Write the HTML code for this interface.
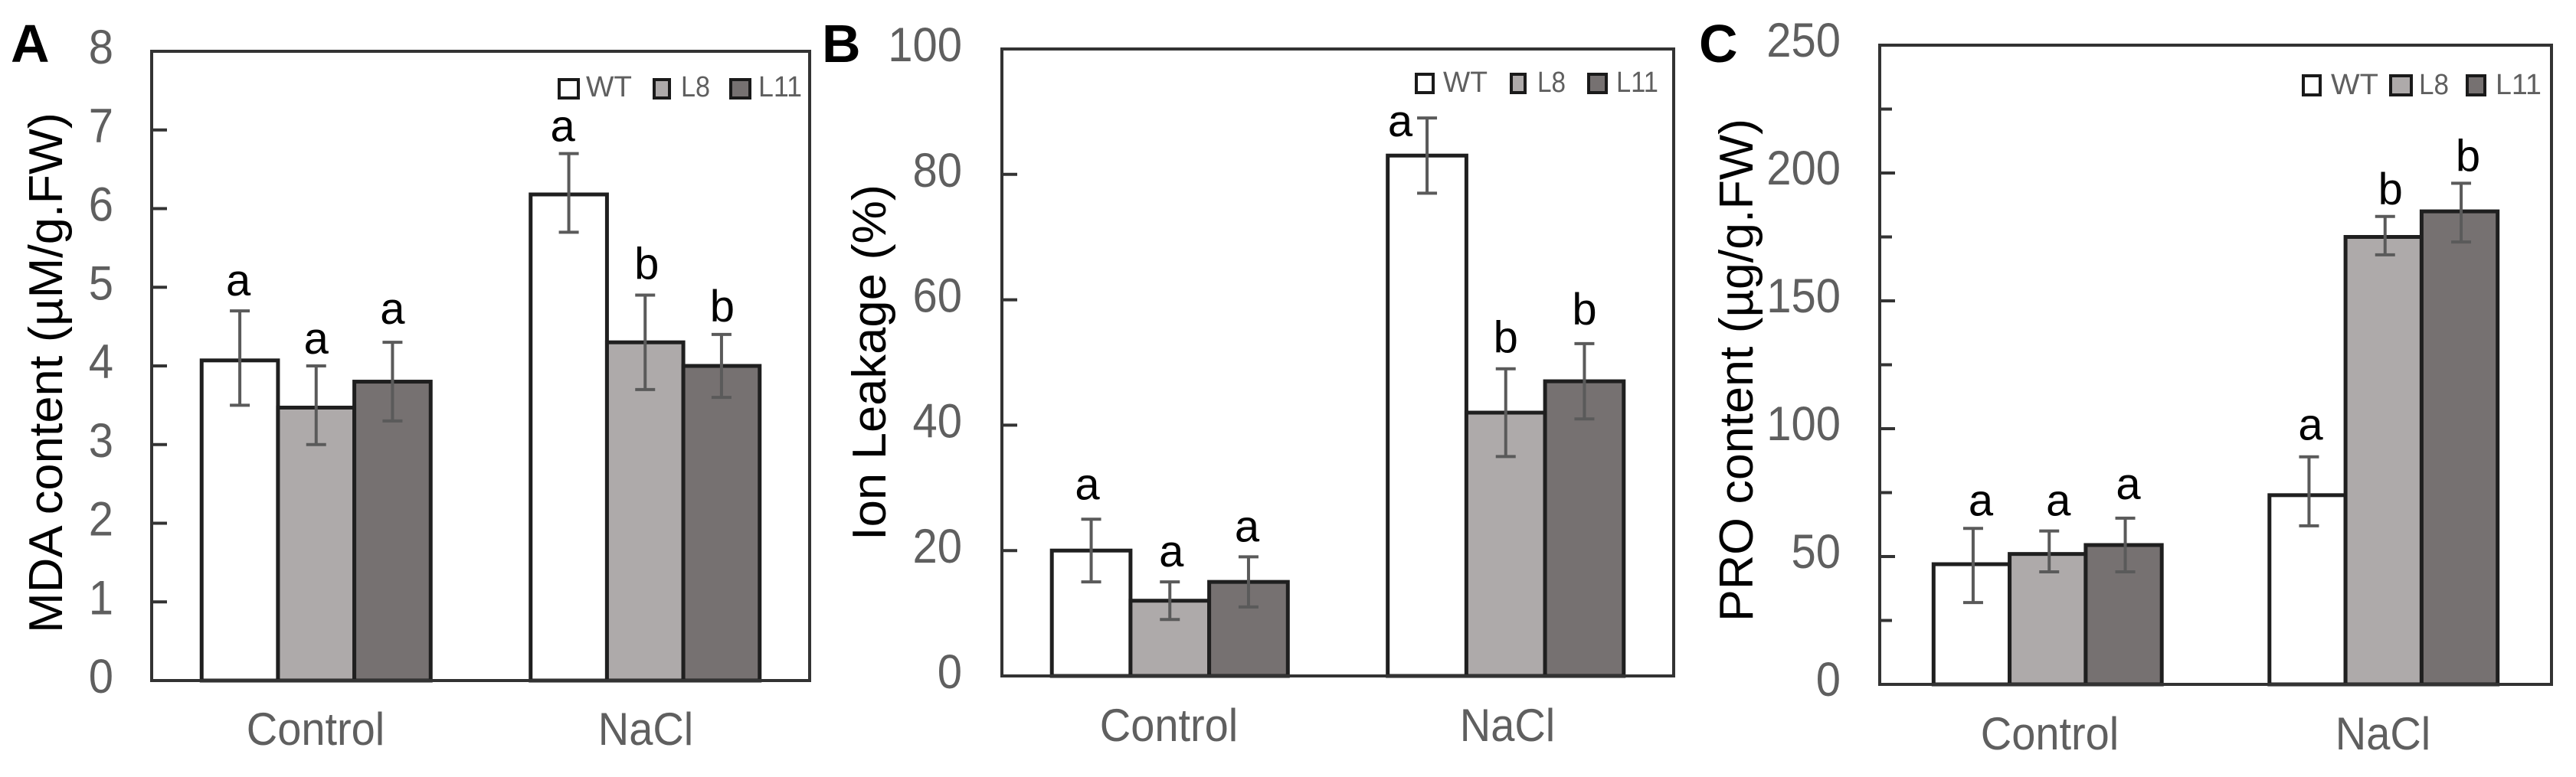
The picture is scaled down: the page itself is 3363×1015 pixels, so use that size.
<!DOCTYPE html>
<html lang="en">
<head>
<meta charset="utf-8">
<title>MDA content, ion leakage and PRO content</title>
<style>
html,body{margin:0;padding:0;background:#fff;width:3363px;height:1015px;overflow:hidden}
svg{display:block}
text{font-family:"Liberation Sans",sans-serif}
.legend-text{fill:#5f5f5f;font-size:38px}
.axis-title{fill:#000;font-size:62px}
.panel-letter{fill:#000;font-size:70px;font-weight:bold}
</style>
</head>
<body>
<svg id="figure" width="3363" height="1015" viewBox="0 0 3363 1015" xmlns="http://www.w3.org/2000/svg">
  <rect width="3363" height="1015" fill="#fff"/>

  <g id="panel-a">
    <text class="panel-letter" x="14" y="81">A</text>
    <text class="axis-title" transform="translate(81,827) rotate(-90)" textLength="680" lengthAdjust="spacingAndGlyphs">MDA content (µM/g.FW)</text>
  </g>
  <g id="panel-b">
    <text class="panel-letter" x="1073" y="81">B</text>
    <text class="axis-title" transform="translate(1156,706) rotate(-90)" textLength="465" lengthAdjust="spacingAndGlyphs">Ion Leakage (%)</text>
  </g>
  <g id="panel-c">
    <text class="panel-letter" x="2218" y="81">C</text>
    <text class="axis-title" transform="translate(2288,812) rotate(-90)" textLength="657" lengthAdjust="spacingAndGlyphs">PRO content (µg/g.FW)</text>
  </g>

  <g id="overlays">
    <g>
      <rect x="730" y="104" width="25" height="24" fill="#fff" stroke="#1a1a1a" stroke-width="4"/>
      <text class="legend-text" x="765" y="126" textLength="60" lengthAdjust="spacingAndGlyphs">WT</text>
      <rect x="854" y="104" width="20" height="24" fill="#aeaaaa" stroke="#1a1a1a" stroke-width="4"/>
      <text class="legend-text" x="889" y="126" textLength="38" lengthAdjust="spacingAndGlyphs">L8</text>
      <rect x="954" y="104" width="25" height="24" fill="#767171" stroke="#1a1a1a" stroke-width="4"/>
      <text class="legend-text" x="990" y="126" textLength="57" lengthAdjust="spacingAndGlyphs">L11</text>
    </g>
    <g>
      <rect x="1849" y="97" width="22" height="24" fill="#fff" stroke="#1a1a1a" stroke-width="4"/>
      <text class="legend-text" x="1884" y="120" textLength="58" lengthAdjust="spacingAndGlyphs">WT</text>
      <rect x="1973" y="97" width="18" height="24" fill="#aeaaaa" stroke="#1a1a1a" stroke-width="4"/>
      <text class="legend-text" x="2007" y="120" textLength="37" lengthAdjust="spacingAndGlyphs">L8</text>
      <rect x="2074" y="97" width="23" height="24" fill="#767171" stroke="#1a1a1a" stroke-width="4"/>
      <text class="legend-text" x="2110" y="120" textLength="55" lengthAdjust="spacingAndGlyphs">L11</text>
    </g>
    <g>
      <rect x="3007" y="99" width="22" height="25" fill="#fff" stroke="#1a1a1a" stroke-width="4"/>
      <text class="legend-text" x="3043" y="123" textLength="62" lengthAdjust="spacingAndGlyphs">WT</text>
      <rect x="3121" y="99" width="27" height="25" fill="#aeaaaa" stroke="#1a1a1a" stroke-width="4"/>
      <text class="legend-text" x="3158" y="123" textLength="39" lengthAdjust="spacingAndGlyphs">L8</text>
      <rect x="3221" y="99" width="23" height="25" fill="#767171" stroke="#1a1a1a" stroke-width="4"/>
      <text class="legend-text" x="3258" y="123" textLength="60" lengthAdjust="spacingAndGlyphs">L11</text>
    </g>
  </g>
</svg>
<script>
// ---- data ----
const categories = ['Control', 'NaCl'];
const seriesNames = ['WT', 'L8', 'L11'];

const mdaWT = [4.07, 6.18];
const mdaL8 = [3.47, 4.3];
const mdaL11 = [3.8, 4.0];
const mdaLowWT = [3.5, 5.7];
const mdaLowL8 = [3.0, 3.7];
const mdaLowL11 = [3.3, 3.6];
const mdaHighWT = [4.7, 6.7];
const mdaHighL8 = [4.0, 4.9];
const mdaHighL11 = [4.3, 4.4];
const mdaLettersWT = ['a', 'a'];
const mdaLettersL8 = ['a', 'b'];
const mdaLettersL11 = ['a', 'b'];
const mdaTickLabels = ['0', '1', '2', '3', '4', '5', '6', '7', '8'];

const ionWT = [20, 83];
const ionL8 = [12, 42];
const ionL11 = [15, 47];
const ionLowWT = [15, 77];
const ionLowL8 = [9, 35];
const ionLowL11 = [11, 41];
const ionHighWT = [25, 89];
const ionHighL8 = [15, 49];
const ionHighL11 = [19, 53];
const ionLettersWT = ['a', 'a'];
const ionLettersL8 = ['a', 'b'];
const ionLettersL11 = ['a', 'b'];
const ionTickLabels = ['0', '20', '40', '60', '80', '100'];

const proWT = [47, 74];
const proL8 = [51, 175];
const proL11 = [54.5, 185];
const proLowWT = [32, 62];
const proLowL8 = [44, 168];
const proLowL11 = [44, 173];
const proHighWT = [61, 89];
const proHighL8 = [60, 183];
const proHighL11 = [65, 196];
const proLettersWT = ['a', 'a'];
const proLettersL8 = ['a', 'b'];
const proLettersL11 = ['a', 'b'];
const proTickLabels = ['0', '50', '100', '150', '200', '250'];

// ---- layout (not data) ----
const NS = 'http://www.w3.org/2000/svg';
const fills = ['#ffffff', '#aeaaaa', '#767171'];
const barEdge = '#1f1f1f';
const textGrey = '#5f5f5f';

const panels = [
  { key: 'mda', host: 'panel-a', left: 198, right: 1057, top: 67, bottom: 889, barW: 99.67, errDx: 0,
    yMax: 8, tickStep: 1, labelStep: 1, labelRight: 148, labelDy: 16,
    values: [mdaWT, mdaL8, mdaL11], lows: [mdaLowWT, mdaLowL8, mdaLowL11], highs: [mdaHighWT, mdaHighL8, mdaHighL11],
    letters: [mdaLettersWT, mdaLettersL8, mdaLettersL11], tickLabels: mdaTickLabels,
    letterNudgeX: [[-2, -8], [0, 2], [0, 1]], letterNudgeY: [[-20, -16], [-16, -21], [-24, -17]],
    catBaseline: 973, catCentres: [412, 843] },
  { key: 'ion', host: 'panel-b', left: 1308, right: 2185, top: 64, bottom: 883, barW: 102.7, errDx: 0,
    yMax: 100, tickStep: 20, labelStep: 20, labelRight: 1256, labelDy: 16,
    values: [ionWT, ionL8, ionL11], lows: [ionLowWT, ionLowL8, ionLowL11], highs: [ionHighWT, ionHighL8, ionHighL11],
    letters: [ionLettersWT, ionLettersL8, ionLettersL11], tickLabels: ionTickLabels,
    letterNudgeX: [[-5, -35], [2, 0], [-2, 0]], letterNudgeY: [[-26, 24], [-20, -21], [-20, -25]],
    catBaseline: 968, catCentres: [1526, 1968] },
  { key: 'pro', host: 'panel-c', left: 2454, right: 3331, top: 59, bottom: 894, barW: 99.3, errDx: 2,
    yMax: 250, tickStep: 25, labelStep: 50, labelRight: 2403, labelDy: 15,
    values: [proWT, proL8, proL11], lows: [proLowWT, proLowL8, proLowL11], highs: [proHighWT, proHighL8, proHighL11],
    letters: [proLettersWT, proLettersL8, proLettersL11], tickLabels: proTickLabels,
    letterNudgeX: [[12, 4], [14, 9], [6, 11]], letterNudgeY: [[-17, -22], [-20, -16], [-25, -16]],
    catBaseline: 979, catCentres: [2676, 3111] }
];

function make(tag, attrs) {
  const el = document.createElementNS(NS, tag);
  for (const k in attrs) el.setAttribute(k, attrs[k]);
  return el;
}

function drawPanel(p) {
  const host = document.getElementById(p.host);
  const yScale = v => p.bottom - (v / p.yMax) * (p.bottom - p.top);
  const catWidth = (p.right - p.left) / categories.length;
  const xCentre = (c, s) => p.left + catWidth * (c + 0.5) + (s - (seriesNames.length - 1) / 2) * p.barW;

  // plot frame background
  const plotBg = make('rect', { x: p.left, y: p.top, width: p.right - p.left, height: p.bottom - p.top, fill: '#fff' });
  
  
  host.appendChild(plotBg);

  // y ticks
  const nTicks = Math.round(p.yMax / p.tickStep);
  for (let i = 1; i < nTicks; i++) {
    const v = i * p.tickStep;
    const isMajor = Math.abs(v / p.labelStep - Math.round(v / p.labelStep)) < 1e-9;
    const tick = make('line', { x1: p.left, x2: p.left + (isMajor ? 20 : 16), y1: yScale(v), y2: yScale(v), stroke: '#333', 'stroke-width': 4 });
    
    
    host.appendChild(tick);
  }

  // y tick labels
  p.tickLabels.forEach(lbl => {
    const y = yScale(Number(lbl)) + p.labelDy;
    const t = make('text', { transform: 'translate(' + p.labelRight + ',' + y + ') scale(1,1.08)', 'text-anchor': 'end', 'font-size': 58, fill: textGrey });
    
    
    t.textContent = lbl;
    host.appendChild(t);
  });

  // bars
  seriesNames.forEach((name, s) => {
    categories.forEach((cat, c) => {
      const top = yScale(p.values[s][c]);
      const bar = make('rect', {
        x: xCentre(c, s) - p.barW / 2, y: top, width: p.barW, height: p.bottom - top,
        fill: fills[s], stroke: barEdge, 'stroke-width': 5
      });
      
      
      host.appendChild(bar);
    });
  });

  // error bars and significance letters
  seriesNames.forEach((name, s) => {
    categories.forEach((cat, c) => {
      const x = xCentre(c, s) + p.errDx;
      const yLow = yScale(p.lows[s][c]);
      const yHigh = yScale(p.highs[s][c]);
      const err = make('path', {
        d: 'M' + (x - 13) + ' ' + yHigh + 'H' + (x + 13) + 'M' + x + ' ' + yHigh + 'V' + yLow + 'M' + (x - 13) + ' ' + yLow + 'H' + (x + 13),
        fill: 'none', stroke: '#5a5a5a', 'stroke-width': 4
      });
      
      
      host.appendChild(err);

      const letter = make('text', {
        x: xCentre(c, s) + p.letterNudgeX[s][c], y: yHigh + p.letterNudgeY[s][c],
        'text-anchor': 'middle', 'font-size': 58, fill: '#000'
      });
      
      
      letter.textContent = p.letters[s][c];
      host.appendChild(letter);
    });
  });

  // frame
  const frame = make('rect', { x: p.left, y: p.top, width: p.right - p.left, height: p.bottom - p.top, fill: 'none', stroke: '#333', 'stroke-width': 4 });
  
  
  host.appendChild(frame);

  // category labels
  categories.forEach((cat, c) => {
    const t = make('text', { transform: 'translate(' + p.catCentres[c] + ',' + p.catBaseline + ') scale(1,1.08)', 'text-anchor': 'middle', 'font-size': 56, fill: textGrey });
    
    
    t.textContent = cat;
    host.appendChild(t);
  });
}

panels.forEach(drawPanel);
</script>
</body>
</html>
